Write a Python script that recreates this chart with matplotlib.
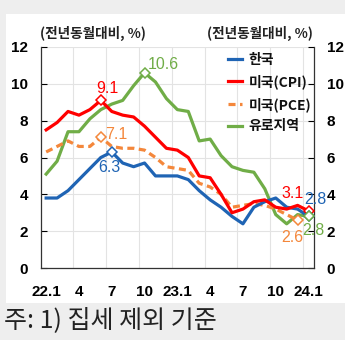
import matplotlib
matplotlib.use("Agg")
import matplotlib.pyplot as plt
from matplotlib.font_manager import FontProperties
from matplotlib.patches import Rectangle

# ---- data ----
months = ["22.1", "22.2", "22.3", "22.4", "22.5", "22.6", "22.7", "22.8", "22.9", "22.10", "22.11", "22.12",
          "23.1", "23.2", "23.3", "23.4", "23.5", "23.6", "23.7", "23.8", "23.9", "23.10", "23.11", "23.12", "24.1"]
korea = [3.8, 3.8, 4.2, 4.8, 5.4, 6.0, 6.3, 5.7, 5.5, 5.7, 5.0, 5.0,
         5.0, 4.8, 4.2, 3.7, 3.3, 2.8, 2.4, 3.3, 3.6, 3.8, 3.3, 3.2, 2.8]
us_cpi = [7.5, 7.9, 8.5, 8.3, 8.6, 9.1, 8.5, 8.3, 8.2, 7.7, 7.1, 6.5,
          6.4, 6.0, 5.0, 4.9, 4.0, 3.0, 3.2, 3.6, 3.7, 3.3, 3.2, 3.4, 3.1]
us_pce = [6.3, 6.6, 6.9, 6.6, 6.6, 7.1, 6.6, 6.5, 6.5, 6.4, 6.0, 5.5,
          5.4, 5.3, 4.6, 4.4, 4.0, 3.3, 3.4, 3.5, 3.4, 3.2, 2.9, 2.6]
euro = [5.1, 5.8, 7.4, 7.4, 8.1, 8.6, 8.9, 9.1, 9.9, 10.6, 10.1, 9.2,
        8.6, 8.5, 6.9, 7.0, 6.1, 5.5, 5.3, 5.2, 4.3, 2.9, 2.4, 2.9, 2.8]
series_names = ["한국", "미국(CPI)", "미국(PCE)", "유로지역"]
xtick_pos = [0, 3, 6, 9, 12, 15, 18, 21, 24]
xtick_labels = ["22.1", "4", "7", "10", "23.1", "4", "7", "10", "24.1"]
yticks = [0, 2, 4, 6, 8, 10, 12]

KR = "Noto Sans CJK KR"
plt.rcParams['font.family'] = [KR, 'DejaVu Sans']

BLUE = "#1F64B4"
RED = "#FF0000"
ORANGE = "#F4873B"
GREEN = "#70AD47"

fig = plt.figure(figsize=(3.45, 3.4), dpi=100)
fig.patch.set_facecolor("#EEEEEE")
fig.patches.append(Rectangle((6 / 345, 1 - 303 / 340), 1 - 6 / 345, (303 - 14) / 340,
                             transform=fig.transFigure, facecolor="white", edgecolor="none", zorder=-10))

ax = fig.add_axes([40.7 / 345, 1 - 268 / 340, (314 - 40.7) / 345, (268 - 47) / 340])
ax.set_zorder(1)
ax.set_facecolor("white")

x_all = list(range(len(months)))
lw = 2.3
ax.plot(x_all, korea, color=BLUE, lw=lw, label=series_names[0], zorder=4)
ax.plot(x_all, us_cpi, color=RED, lw=lw, label=series_names[1], zorder=5)
ax.plot(x_all[:len(us_pce)], us_pce, color=ORANGE, lw=lw, ls=(0, (2.2, 1.4)), label=series_names[2], zorder=3)
ax.plot(x_all, euro, color=GREEN, lw=lw, label=series_names[3], zorder=2)

mk = dict(marker="D", ms=5, mfc="white", mew=1.1, ls="none", zorder=6)
ax.plot([5], [us_cpi[5]], mec=RED, **mk)
ax.plot([5], [us_pce[5]], mec=ORANGE, **mk)
ax.plot([6], [korea[6]], mec=BLUE, **mk)
ax.plot([9], [euro[9]], mec=GREEN, **mk)
ax.plot([24], [us_cpi[24]], mec=RED, **mk)
ax.plot([24], [korea[24]], mec=BLUE, **mk)
ax.plot([24], [euro[24]], mec=GREEN, **mk)
ax.plot([23], [us_pce[23]], mec=ORANGE, **mk)

afp = FontProperties(family="Liberation Sans", size=11.5)
af = dict(fontproperties=afp, va="center", ha="center", zorder=7, clip_on=False)
ax.text(5.6, 9.75, "9.1", color=RED, **af)
ax.text(10.7, 11.03, "10.6", color=GREEN, **af)
ax.text(6.4, 7.23, "7.1", color=ORANGE, **af)
ax.text(5.75, 5.45, "6.3", color=BLUE, **af)
ax.text(22.5, 4.07, "3.1", color=RED, **af)
ax.text(24.6, 3.7, "2.8", color=BLUE, **af)
ax.text(22.5, 1.63, "2.6", color=ORANGE, **af)
ax.text(24.4, 2.03, "2.8", color=GREEN, **af)

ax.set_xlim(-0.5, 24.5)
ax.set_ylim(0, 12)
ax.set_xticks(xtick_pos)
ax.set_xticklabels(xtick_labels)
ax.set_xticks([2.5 + 3 * k for k in range(8)], minor=True)
ax.set_yticks(yticks)
ax.grid(axis="x", which="minor", color="#E3E3E3", lw=0.8)
ax.grid(axis="y", which="major", color="#E3E3E3", lw=0.8)
ax.set_axisbelow(True)

ax.tick_params(axis="x", which="both", length=0, pad=12, colors="black")
ax.tick_params(axis="y", direction="in", length=4, width=0.8, left=True, right=True,
               labelleft=True, labelright=True, pad=9, colors="black")
tfp = FontProperties(family="Liberation Sans", weight="bold", size=11)
for tick in ax.xaxis.get_major_ticks():
    tick.label1.set_fontproperties(tfp)
for tick in ax.yaxis.get_major_ticks():
    tick.label1.set_fontproperties(tfp)
    tick.label2.set_fontproperties(tfp)
ax.spines["top"].set_visible(False)
for s in ["left", "right", "bottom"]:
    ax.spines[s].set_color("#333333")
    ax.spines[s].set_linewidth(0.9)

leg = ax.legend(loc="upper left", bbox_to_anchor=(0.685, 0.975), frameon=False,
                borderaxespad=0, borderpad=0, handlelength=1.0, handletextpad=0.5,
                labelspacing=0.56, prop={"family": KR, "size": 10, "weight": "bold"})
for t in leg.get_texts():
    t.set_color("#111111")

fig.text(40 / 345, 1 - 33 / 340, "(전년동월대비, %)", fontsize=9.8, fontweight="bold",
         ha="left", va="center", color="#222222")
fig.text(313 / 345, 1 - 33 / 340, "(전년동월대비, %)", fontsize=9.8, fontweight="bold",
         ha="right", va="center", color="#222222")
fig.text(4 / 345, 1 - 320 / 340, "주: 1) 집세 제외 기준", fontsize=18,
         ha="left", va="center", color="#222222")

fig.savefig("out.png", dpi=100, facecolor=fig.get_facecolor())
